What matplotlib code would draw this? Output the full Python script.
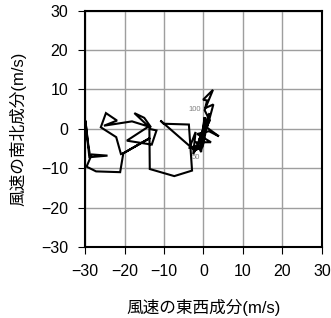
import matplotlib.pyplot as plt

plt.rcParams['font.family'] = ['Liberation Sans', 'Noto Sans CJK JP', 'DejaVu Sans']

# wind components (m/s)
u = [-0.6, 0.3, -0.9, 1.6, 0.3, 0.9, -0.1, 2.4, 0.5, 2.5, 0.9, 3.9, 1.4, -1.6, 1.9,
     -1.8, -0.6, 0.3, -0.8, -3.5, -2.0, -2.6, -0.4, 0.8, -1.2, 1.5, -0.2, -2.2,
     -10.9, -10.1, -3.7, -2.9, -7.4, -13.6, -13.7, -11.9, -13.1, -19.4, -13.9,
     -17.5, -15.0, -13.3, -18.1, -25.2, -21.9, -24.7, -26.0, -22.1, -20.9,
     -20.3, -13.5, -20.3, -21.1, -27.2, -29.6, -28.3, -24.3, -28.9, -29.9,
     -29.2, -28.7]
v = [-5.1, -0.8, -2.5, 2.1, 4.7, 7.2, 7.4, 9.9, 5.3, 6.2, 0.3, -1.9, -0.6, -1.3, -3.4,
     -3.4, -5.9, 3.0, -4.2, -4.7, -0.8, -6.4, -2.0, 1.2, -3.0, 4.0, -4.5, -5.5,
     2.1, 1.3, 1.1, -10.6, -12.0, -10.2, 0.0, -0.4, -4.0, -3.0, 0.6,
     4.0, 2.8, 0.4, 1.9, 0.8, 2.1, 4.0, 0.4, -2.1, -6.4,
     -6.2, -2.3, -6.2, -11.0, -10.8, -9.6, -6.5, -6.8, -7.2, 2.1,
     -3.8, -7.0]

marks = ["100", "50"]
mark_u = [-2.3, -1.9]
mark_v = [4.8, -7.3]

ticks = [-30, -20, -10, 0, 10, 20, 30]

fig = plt.figure(figsize=(3.31, 3.18), dpi=100)
ax = fig.add_axes([0.2568, 0.2233, 0.716, 0.743])

ax.plot(u, v, color="black", lw=1.5, zorder=3, solid_joinstyle="miter")
for t, x, y in zip(marks, mark_u, mark_v):
    ax.text(x, y, t, fontsize=5.5, color="0.5", ha="center", va="center", zorder=2)

ax.set_xlim(-30, 30)
ax.set_ylim(-30, 30)
ax.set_xticks(ticks)
ax.set_yticks(ticks)
ax.set_xticklabels([str(t).replace("-", "\u2212") for t in ticks])
ax.set_yticklabels([str(t).replace("-", "\u2212") for t in ticks])
ax.grid(True, color="0.62", lw=1.0)
ax.set_axisbelow(True)
ax.tick_params(direction="out", length=5, width=0.8, labelsize=11.5, pad=7)
for s in ax.spines.values():
    s.set_linewidth(1.5)

ax.set_xlabel("風速の東西成分(m/s)", fontsize=12, labelpad=15,
              family=['Liberation Sans', 'Noto Sans CJK JP'])
ax.set_ylabel("風速の南北成分(m/s)", fontsize=12, labelpad=11,
              family=['Liberation Sans', 'Noto Sans CJK JP'])

fig.savefig("out.png", dpi=100)
